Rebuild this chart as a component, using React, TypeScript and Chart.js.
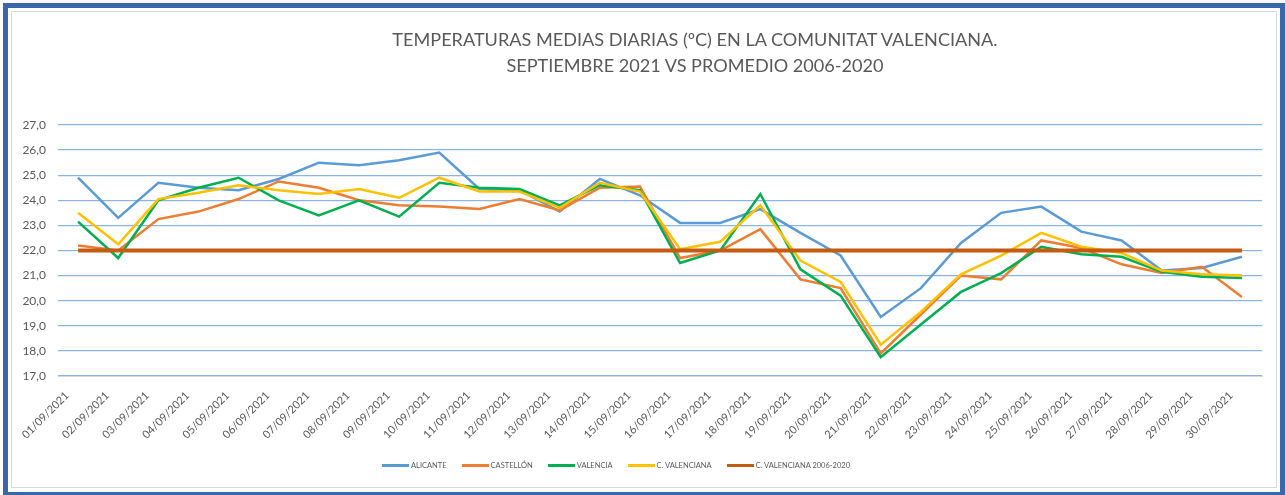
import React, { useEffect, useRef } from "react";
import { Chart, registerables } from "chart.js";

Chart.register(...registerables);

const days: string[] = [
  "01/09/2021", "02/09/2021", "03/09/2021", "04/09/2021", "05/09/2021",
  "06/09/2021", "07/09/2021", "08/09/2021", "09/09/2021", "10/09/2021",
  "11/09/2021", "12/09/2021", "13/09/2021", "14/09/2021", "15/09/2021",
  "16/09/2021", "17/09/2021", "18/09/2021", "19/09/2021", "20/09/2021",
  "21/09/2021", "22/09/2021", "23/09/2021", "24/09/2021", "25/09/2021",
  "26/09/2021", "27/09/2021", "28/09/2021", "29/09/2021", "30/09/2021",
];

const alicante: number[] = [
  24.9, 23.3, 24.7, 24.5, 24.4, 24.85, 25.5, 25.4, 25.6, 25.9,
  24.45, 24.4, 23.55, 24.85, 24.2, 23.1, 23.1, 23.65, 22.7, 21.8,
  19.35, 20.5, 22.3, 23.5, 23.75, 22.75, 22.4, 21.2, 21.3, 21.75,
];

const castellon: number[] = [
  22.2, 22.0, 23.25, 23.55, 24.05, 24.75, 24.5, 24.0, 23.8, 23.75,
  23.65, 24.05, 23.6, 24.5, 24.55, 21.7, 22.0, 22.85, 20.85, 20.5,
  17.9, 19.45, 21.0, 20.85, 22.4, 22.1, 21.45, 21.1, 21.35, 20.15,
];

const valencia: number[] = [
  23.15, 21.7, 24.0, 24.5, 24.9, 24.0, 23.4, 24.0, 23.35, 24.7,
  24.5, 24.45, 23.8, 24.6, 24.4, 21.5, 22.0, 24.25, 21.25, 20.2,
  17.75, 19.05, 20.35, 21.1, 22.15, 21.85, 21.75, 21.15, 20.95, 20.9,
];

const cValenciana: number[] = [
  23.5, 22.25, 24.05, 24.3, 24.6, 24.4, 24.25, 24.45, 24.1, 24.9,
  24.35, 24.35, 23.7, 24.7, 24.35, 22.05, 22.35, 23.8, 21.6, 20.75,
  18.25, 19.55, 21.05, 21.8, 22.7, 22.15, 21.9, 21.2, 21.05, 21.0,
];

const promedio: number[] = [
  22, 22, 22, 22, 22, 22, 22, 22, 22, 22,
  22, 22, 22, 22, 22, 22, 22, 22, 22, 22,
  22, 22, 22, 22, 22, 22, 22, 22, 22, 22,
];

const seriesNames: string[] = [
  "ALICANTE", "CASTELLÓN", "VALENCIA", "C. VALENCIANA", "C. VALENCIANA 2006-2020",
];
const seriesColors: string[] = ["#5B9BD5", "#ED7D31", "#00B050", "#FFC000", "#C55A11"];

const titleLines: string[] = [
  "TEMPERATURAS MEDIAS DIARIAS (ºC) EN LA COMUNITAT VALENCIANA.",
  "SEPTIEMBRE 2021 VS PROMEDIO 2006-2020",
];

const FONT = 'Lato, "Open Sans", sans-serif';

export default function App() {
  const canvasRef = useRef<HTMLCanvasElement | null>(null);

  useEffect(() => {
    if (!canvasRef.current) return;
    const allSeries = [alicante, castellon, valencia, cValenciana, promedio];
    const chart = new Chart(canvasRef.current, {
      type: "line",
      data: {
        labels: days,
        datasets: allSeries.map((d, i) => ({
          label: seriesNames[i],
          data: d,
          borderColor: seriesColors[i],
          backgroundColor: seriesColors[i],
          borderWidth: i === 4 ? 4 : 2.5,
          pointRadius: 0,
          tension: 0,
          fill: false,
          order: 5 - i,
        })),
      },
      options: {
        animation: false,
        responsive: false,
        maintainAspectRatio: false,
        layout: { padding: { left: 0, top: 113, right: 14, bottom: 0 } },
        plugins: {
          legend: { display: false },
          title: { display: false },
          tooltip: { enabled: false },
        },
        scales: {
          x: {
            offset: true,
            grid: { display: false, drawTicks: false },
            border: { display: true, color: "#D9D9D9", width: 1 },
            ticks: {
              minRotation: 45,
              maxRotation: 45,
              autoSkip: false,
              padding: 13,
              labelOffset: -11,
              color: "#595959",
              font: { family: FONT, size: 11 },
            },
            afterFit: (scale: any) => {
              scale.height = 111;
            },
          },
          y: {
            min: 17,
            max: 27,
            grid: { color: "#8EB4E3", lineWidth: 1.3, drawTicks: false },
            border: { display: false },
            ticks: {
              stepSize: 1,
              padding: 12,
              color: "#595959",
              font: { family: FONT, size: 12 },
              callback: (v: any) => Number(v).toFixed(1).replace(".", ","),
            },
            afterFit: (scale: any) => {
              scale.width = 46;
            },
          },
        },
      },
    });
    return () => chart.destroy();
  }, []);

  return (
    <div style={{ position: "absolute", left: 0, top: 0, width: 1285, height: 495, background: "#fff", overflow: "hidden" }}>
      <div
        style={{
          position: "absolute",
          left: 3,
          top: 3,
          width: 1285 - 3,
          height: 495 - 3 + 2,
          boxSizing: "border-box",
          border: "5px solid #3A66AA",
        }}
      />
      <div
        style={{
          position: "absolute",
          left: 11,
          top: 11,
          width: 1277 - 11,
          height: 488 - 11,
          boxSizing: "border-box",
          border: "1px solid #DADADA",
        }}
      />
      <canvas
        ref={canvasRef}
        width={1264}
        height={475}
        style={{ position: "absolute", left: 12, top: 12, width: 1264, height: 475 }}
      />
      <div
        style={{
          position: "absolute",
          left: 295,
          width: 800,
          top: 26,
          textAlign: "center",
          fontFamily: FONT,
          fontSize: 18.1,
          lineHeight: "26px",
          color: "#595959",
          whiteSpace: "nowrap",
        }}
      >
        <div>{titleLines[0]}</div>
        <div>{titleLines[1]}</div>
      </div>
      <div
        style={{
          position: "absolute",
          left: 382,
          top: 461,
          display: "flex",
          alignItems: "center",
          gap: 15,
          fontFamily: FONT,
          fontSize: 7.5,
          color: "#595959",
          whiteSpace: "nowrap",
        }}
      >
        {seriesNames.map((n, i) => (
          <div key={n} style={{ display: "flex", alignItems: "center" }}>
            <div style={{ width: 27, height: 3, background: seriesColors[i], marginRight: 2 }} />
            <span>{n}</span>
          </div>
        ))}
      </div>
    </div>
  );
}
